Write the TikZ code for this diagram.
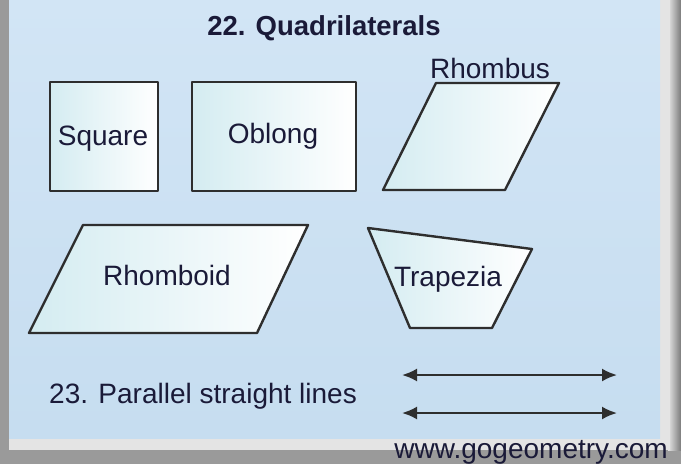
\documentclass[tikz,border=0pt]{standalone}
\usepackage{fontspec}
\setmainfont{Liberation Sans}
\usetikzlibrary{arrows.meta}
\definecolor{panel}{HTML}{C6DDF0}
\definecolor{panellight}{HTML}{D2E5F5}
\definecolor{bevel}{HTML}{E4E4E4}
\definecolor{outergray}{HTML}{9A9A9A}
\definecolor{edge}{HTML}{2E2E2E}
\definecolor{cyanish}{HTML}{D4ECF1}
\definecolor{ink}{HTML}{1A1A38}
\begin{document}
\begin{tikzpicture}[x=1pt,y=-1pt,
  shapebox/.style={draw=edge, line width=2.4pt, line join=round, left color=cyanish, right color=white},
  lbl/.style={inner sep=0pt, anchor=base, text=ink, font=\fontsize{28}{32}\selectfont},
  dbl/.style={line width=2.2pt, draw=edge, {Latex[length=15pt,width=13pt]}-{Latex[length=15pt,width=13pt]}}]
\useasboundingbox (0,0) rectangle (681,464);
% frame
\fill[outergray] (0,0) rectangle (681,464);
\shade[left color=bevel, right color=outergray!80!black] (668,0) rectangle (681,450);
\fill[bevel] (9,0) rectangle (670,450);
\shade[top color=panellight, bottom color=panel] (9,0) rectangle (660,438);
% shapes
\draw[shapebox] (50,82) rectangle (158,191);
\draw[shapebox] (192,82) rectangle (356,191);
\draw[shapebox] (436,83) -- (559,83) -- (505,190) -- (383,190) -- cycle;
\draw[shapebox] (83,225) -- (308,225) -- (257,333) -- (29,333) -- cycle;
\draw[shapebox] (368,228) -- (532,249) -- (492,328) -- (410,328) -- cycle;
% labels
\node[lbl, font=\fontsize{27.5}{32}\selectfont\bfseries] (title) at (324,35) {22. Quadrilaterals};
\node[lbl] (square) at (103,145) {Square};
\node[lbl] (oblong) at (273,143) {Oblong};
\node[lbl] (rhombus) at (490,78) {Rhombus};
\node[lbl] (rhomboid) at (167,285) {Rhomboid};
\node[lbl] (trapezia) at (448,286) {Trapezia};
\node[lbl, anchor=base west] (parallel) at (49,403) {23. Parallel straight lines};
\node[lbl, anchor=base east] (web) at (668,458) {www.gogeometry.com};
% parallel lines
\coordinate (a1) at (402,375);
\coordinate (b1) at (617,375);
\coordinate (a2) at (402,413);
\coordinate (b2) at (617,413);
\draw[dbl] (a1) -- (b1);
\draw[dbl] (a2) -- (b2);
\end{tikzpicture}
\end{document}
